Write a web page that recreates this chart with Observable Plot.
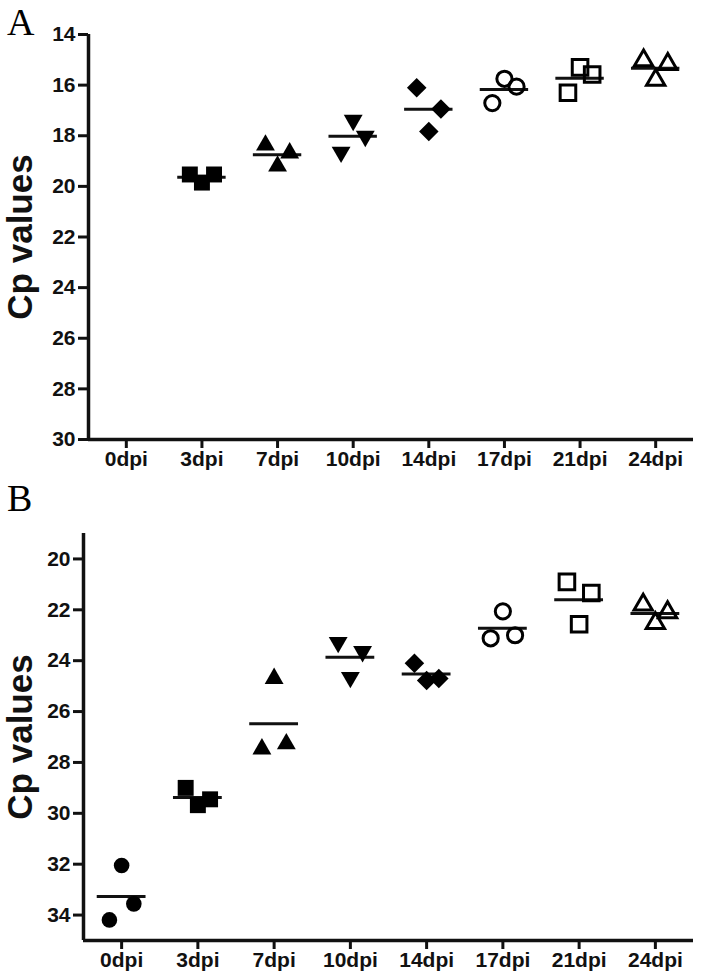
<!DOCTYPE html>
<html>
<head>
<meta charset="utf-8">
<script src="https://cdn.jsdelivr.net/npm/d3@7"></script>
<script src="https://cdn.jsdelivr.net/npm/@observablehq/plot@0.6"></script>
<style>
  body { margin: 0; background: #fff; }
  #wrap { position: relative; width: 701px; height: 979px; overflow: hidden; }
  .letter { position: absolute; z-index: 2; font-family: "Liberation Serif", "Times New Roman", serif; font-size: 38px; line-height: 1; color: #000; }
  .panel { position: absolute; left: 0; z-index: 1; }
</style>
</head>
<body>
<div id="wrap">
  <div class="panel" id="pa" style="top:0px;"></div>
  <div class="panel" id="pb" style="top:490px;"></div>
  <div class="letter" style="left:7px; top:3px;">A</div>
  <div class="letter" style="left:7px; top:479px;">B</div>
</div>
<script>
// ---- data ----
const categories = ["0dpi", "3dpi", "7dpi", "10dpi", "14dpi", "17dpi", "21dpi", "24dpi"];
// replicate values per category, listed left / middle / right as drawn
const cpA = [
  [],
  [19.53, 19.85, 19.53],
  [18.37, 19.20, 18.68],
  [18.65, 17.39, 18.02],
  [16.10, 17.83, 16.94],
  [16.71, 15.75, 16.06],
  [16.30, 15.30, 15.58],
  [15.03, 15.80, 15.17]
];
const cpB = [
  [34.19, 32.05, 33.56],
  [29.00, 29.68, 29.45],
  [27.47, 24.70, 27.27],
  [23.28, 24.66, 23.64],
  [24.10, 24.78, 24.70],
  [23.12, 22.06, 23.00],
  [20.90, 22.57, 21.34],
  [21.80, 22.53, 22.10]
];
const yTicksA = [14, 16, 18, 20, 22, 24, 26, 28, 30];
const yTicksB = [20, 22, 24, 26, 28, 30, 32, 34];
const yLabel = "Cp values";

// ---- styles ----
const symbolStyles = [
  {symbol: "circle", fill: "black", r: 7.8},
  {symbol: "square", fill: "black", r: 9},
  {symbol: "triangle", fill: "black", r: 7},
  {symbol: "triangle", fill: "black", r: 7, rotate: 180},
  {symbol: "square", fill: "black", r: 7.8, rotate: 45},
  {symbol: "circle", fill: "none", stroke: "black", strokeWidth: 3, r: 7.6},
  {symbol: "square", fill: "none", stroke: "black", strokeWidth: 3, r: 8.8},
  {symbol: "triangle", fill: "none", stroke: "black", strokeWidth: 3, r: 6.8}
];
const JIT = 0.16, HALF = 0.32;

function panel({values, yDomain, yTicks, height, marginTop, marginBottom, marginLeft, labelDx}) {
  const rows = values.flatMap((reps, i) => reps.map((v, j) => ({i, j, cp: v})));
  const means = values.map((reps, i) => reps.length ? {i, mean: d3.mean(reps)} : null).filter(Boolean);
  const dots = symbolStyles.map((s, k) =>
    Plot.dot(rows.filter(d => d.i === k), {
      x: d => d.i + (d.j - 1) * JIT, y: "cp", ...s
    })
  );
  return Plot.plot({
    width: 701, height, marginTop, marginBottom, marginLeft, marginRight: 8,
    x: {domain: [-0.5, 7.5], axis: null},
    y: {domain: yDomain, reverse: true, axis: null},
    style: "font-family: 'Liberation Sans', Arial, sans-serif; font-weight: bold; color: #111; background: white; overflow: visible;",
    marks: [
      Plot.axisX({ticks: d3.range(categories.length), tickFormat: i => categories[i], tickSize: 9, tickPadding: 3, strokeWidth: 3, fontSize: 21, fontWeight: "bold"}),
      Plot.axisY({ticks: yTicks, tickFormat: d => String(d), tickSize: 10, tickPadding: 3, strokeWidth: 3, fontSize: 21, fontWeight: "bold", label: null}),
      Plot.ruleX([-0.5], {strokeWidth: 3.5}),
      Plot.ruleY([yDomain[1]], {strokeWidth: 3.5}),
      Plot.ruleY(means, {y: "mean", x1: d => d.i - HALF, x2: d => d.i + HALF, strokeWidth: 3}),
      ...dots,
      Plot.text([yLabel], {frameAnchor: "left", textAnchor: "middle", lineAnchor: "middle", rotate: -90, dx: labelDx, fontSize: 35, fontWeight: "bold"})
    ]
  });
}

document.getElementById("pa").append(panel({
  values: cpA, yDomain: [14, 30], yTicks: yTicksA,
  height: 480, marginTop: 34, marginBottom: 41, marginLeft: 88, labelDx: -68
}));
document.getElementById("pb").append(panel({
  values: cpB, yDomain: [19, 35], yTicks: yTicksB,
  height: 489, marginTop: 43, marginBottom: 39, marginLeft: 83, labelDx: -63
}));
</script>
</body>
</html>
